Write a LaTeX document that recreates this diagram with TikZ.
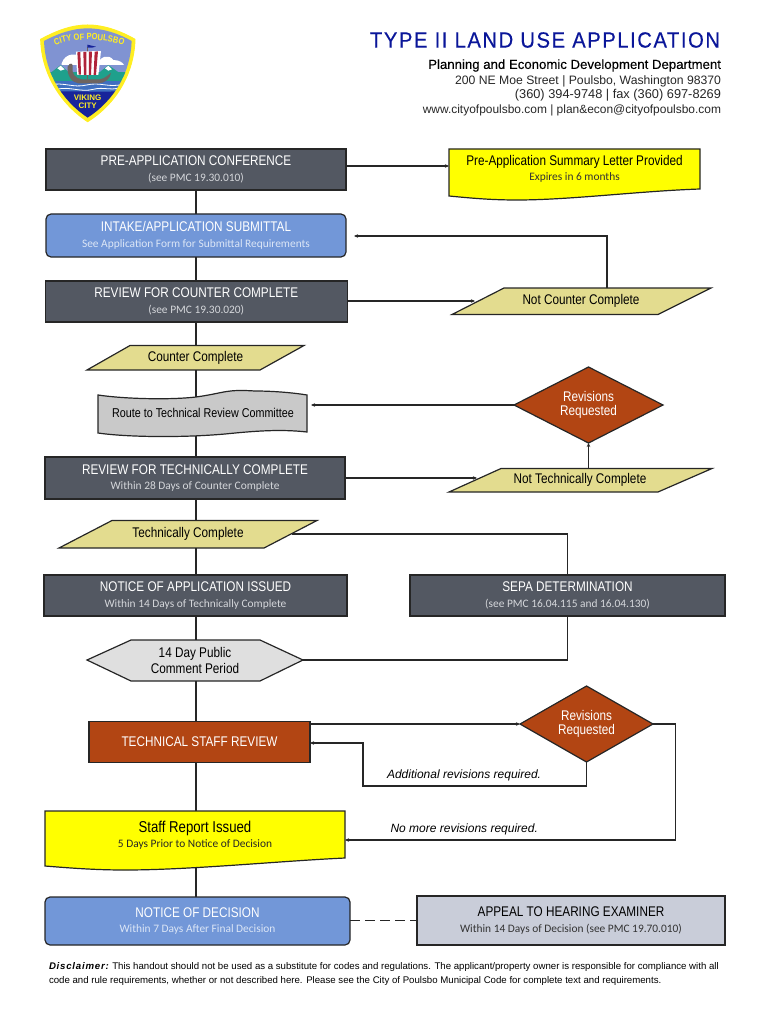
\documentclass[tikz,border=0pt]{standalone}
\usepackage{fontspec}
\usetikzlibrary{shapes.geometric,arrows.meta,decorations.text,calc}
\setmainfont{Liberation Sans}
\newfontfamily\hdfont[FakeStretch=0.84]{Liberation Sans}
\newfontfamily\logofont[FakeStretch=0.84]{Liberation Sans Bold}
\newfontfamily\subfont{Carlito}
\newfontfamily\ttlfont[LetterSpace=7,FakeStretch=0.92,FakeBold=0.4]{Liberation Sans}
\newfontfamily\deptfont[FakeBold=0.35]{Liberation Sans}
\newfontfamily\discfont[LetterSpace=8]{Liberation Sans Bold Italic}
\definecolor{slatebox}{HTML}{535862}
\definecolor{bluebox}{HTML}{7297D8}
\definecolor{rustbox}{HTML}{B24513}
\definecolor{khakibox}{HTML}{E3DC8F}
\definecolor{greydoc}{HTML}{C9C9C9}
\definecolor{greyhex}{HTML}{DFDFDF}
\definecolor{appealbox}{HTML}{C9CDD9}
\definecolor{navytitle}{HTML}{0A1699}
\definecolor{subgrey}{HTML}{D5D7DB}
\definecolor{paleblue}{HTML}{DCE6F6}
\definecolor{docyellow}{HTML}{FFFF00}
\definecolor{logosky}{HTML}{8093D2}
\definecolor{logonavy}{HTML}{18249A}
\definecolor{logoteal}{HTML}{1FA08C}
\definecolor{logowater}{HTML}{3F6FC0}
\definecolor{logoyellow}{HTML}{FFEE22}
\definecolor{logored}{HTML}{B0243A}
\definecolor{logohull}{HTML}{6E6460}
\newcommand{\hd}[1]{{\hdfont\fontsize{14}{16}\selectfont #1}}
\newcommand{\sbt}[1]{{\subfont\fontsize{11.4}{16}\selectfont #1}}
\newcommand{\lbl}[1]{{\hdfont\fontsize{14}{15}\selectfont #1}}
\tikzset{
  x=1pt,y=-1pt,
  wire/.style={line width=1.1pt,draw=black!85},
  arrowwire/.style={wire,-{Stealth[length=4pt,width=3.5pt]}},
  shapeline/.style={line width=1.2pt,draw=black!85},
  txt/.style={draw=none,inner sep=0pt,outer sep=0pt,align=center},
  slate/.style={shapeline,fill=slatebox,text=white,align=center,inner sep=0pt,outer sep=0pt},
  bluerect/.style={shapeline,fill=bluebox,text=white,align=center,inner sep=0pt,outer sep=0pt,rounded corners=5pt},
  rust/.style={shapeline,fill=rustbox,text=white,align=center,inner sep=0pt,outer sep=0pt},
  decide/.style={shape=diamond,aspect=2,shapeline,fill=rustbox,text=white,align=center,inner sep=0pt,outer sep=0pt},
  appeal/.style={shapeline,fill=appealbox,text=black,align=center,inner sep=0pt,outer sep=0pt},
  khaki/.style={shapeline,fill=khakibox},
  yellowdoc/.style={shapeline,fill=docyellow},
}
\begin{document}
\begin{tikzpicture}
\useasboundingbox (0,0) rectangle (770,1024);
% ---- logo
\begin{scope}[shift={(20,10)},x=0.3333pt,y=-0.3333pt]
  \path[fill=logoyellow,draw=logoyellow,line width=1pt]
    (62,88) .. controls (110,62) and (155,45) .. (203,45)
    .. controls (250,45) and (300,62) .. (345,88)
    .. controls (342,190) and (290,280) .. (203,335)
    .. controls (120,280) and (65,190) .. (62,88) -- cycle;
  \begin{scope}
    \clip (72,93) .. controls (115,70) and (160,55) .. (203,55)
      .. controls (248,55) and (295,70) .. (335,93)
      .. controls (332,188) and (282,272) .. (203,323)
      .. controls (126,272) and (75,188) .. (72,93) -- cycle;
    \fill[logosky] (50,40) rectangle (360,200);
    \fill[white] (125,160) .. controls (135,128) and (175,125) .. (190,150) .. controls (215,160) and (215,165) .. (200,165) -- (125,165) -- cycle;
    \fill[white] (230,165) .. controls (240,140) and (265,130) .. (280,150) .. controls (300,150) and (310,160) .. (312,165) -- cycle;
    \fill[logoteal] (50,185) rectangle (360,215);
    \fill[logoteal] (90,190) -- (122,165) -- (150,190) -- cycle;
    \fill[logoteal] (235,190) -- (265,165) -- (300,190) -- cycle;
    \fill[white] (112,175) -- (122,167) -- (134,178) -- (122,182) -- cycle;
    \fill[white] (255,175) -- (265,167) -- (276,178) -- (265,182) -- cycle;
    \fill[logowater] (50,212) rectangle (360,250);
    \draw[white,line width=0.8pt] (90,225) .. controls (130,215) and (160,235) .. (200,225) .. controls (240,215) and (270,235) .. (310,222);
    \draw[white,line width=0.8pt] (110,238) .. controls (150,228) and (180,248) .. (220,238) .. controls (250,230) and (270,242) .. (295,234);
    \fill[logonavy] (50,246) .. controls (120,240) and (280,250) .. (360,240) -- (360,340) -- (50,340) -- cycle;
  \end{scope}
  % ship
  \fill[logohull] (143,170) .. controls (150,155) and (160,160) .. (158,172) .. controls (155,190) and (165,205) .. (185,208) -- (240,208) .. controls (255,205) and (265,195) .. (273,188) .. controls (272,205) and (255,220) .. (235,220) -- (175,220) .. controls (155,218) and (140,195) .. (143,170) -- cycle;
  \draw[logohull,line width=0.9pt] (202,112) -- (202,208);
  \fill[logonavy] (202,104) -- (228,110) -- (216,113) -- (202,113) -- cycle;
  \fill[white] (168,125) -- (243,123) .. controls (240,150) and (238,175) .. (235,195) -- (172,195) .. controls (170,170) and (168,150) .. (168,125) -- cycle;
  \fill[logored] (172,127) -- (181,126) -- (183,194) -- (176,194) -- cycle;
  \fill[logored] (190,126) -- (199,126) -- (199,195) -- (192,195) -- cycle;
  \fill[logored] (207,125) -- (216,125) -- (213,195) -- (207,195) -- cycle;
  \fill[logored] (224,125) -- (234,124) -- (228,195) -- (221,195) -- cycle;
  \path[decorate,decoration={text along path,text align=center,
    text={|\color{logoyellow}\logofont\fontsize{9}{10}\selectfont|CITY OF POULSBO}}]
    (90,112) .. controls (150,82) and (260,82) .. (326,112);
  \node[txt,text=logoyellow,font=\bfseries\fontsize{8}{8}\selectfont] (logotext) at (203,274) {VIKING\\CITY};
\end{scope}
% ---- header
\node[txt,anchor=east,text=navytitle,font=\ttlfont\fontsize{22}{24}\selectfont] (title) at (720,40) {TYPE II LAND USE APPLICATION};
\node[txt,anchor=east,font=\deptfont\fontsize{13.2}{15}\selectfont] (dept) at (721,65.5) {Planning and Economic Development Department};
\node[txt,anchor=east,text=black!85,font=\fontsize{12.2}{15}\selectfont] (addr) at (721,81) {200 NE Moe Street | Poulsbo, Washington 98370};
\node[txt,anchor=east,text=black!85,font=\fontsize{12.8}{15}\selectfont] (phone) at (721,95.5) {(360) 394-9748 | fax (360) 697-8269};
\node[txt,anchor=east,text=black!85,font=\fontsize{11.95}{15}\selectfont] (web) at (721,110.5) {www.cityofpoulsbo.com | plan\&econ@cityofpoulsbo.com};
% ---- shapes drawn as paths
\path[yellowdoc] (449,149) -- (700,149) -- (700,189) .. controls (640,191) and (570,200) .. (517,200) .. controls (490,200) and (470,198) .. (449,196) -- cycle;
\path[khaki] (87,370) -- (130,345.5) -- (304,345.5) -- (260,370) -- cycle;
\path[khaki] (452,314.5) -- (504,288) -- (711,288) -- (658,314.5) -- cycle;
\path[khaki] (449,492) -- (501,468.5) -- (712,468.5) -- (658,492) -- cycle;
\path[khaki] (59,548) -- (112,520.5) -- (317,520.5) -- (264,548) -- cycle;
\path[shapeline,fill=greydoc] (98,395) .. controls (125,399) and (170,400) .. (196,397) .. controls (225,393) and (225,389) .. (255,391) .. controls (275,391) and (295,393) .. (307,395)
  -- (307,432) .. controls (280,429) and (255,431) .. (225,434) .. controls (180,438) and (125,437) .. (98,433) -- cycle;
\path[shapeline,fill=greyhex] (87,660) -- (131,640) -- (260,640) -- (303,660) -- (260,681) -- (131,681) -- cycle;
\path[yellowdoc] (45,811) -- (345,811) -- (345,858) .. controls (280,861) and (190,870) .. (125,870) .. controls (95,870) and (70,868) .. (45,866) -- cycle;
% ---- boxes
\node[slate,minimum width=300pt,minimum height=41pt] (pre) at (196,169.5) {\hd{PRE-APPLICATION CONFERENCE}\\[3.5pt]\textcolor{subgrey}{\sbt{(see PMC 19.30.010)}}};
\node[bluerect,minimum width=300pt,minimum height=43pt] (intake) at (196,235.5) {\hd{INTAKE/APPLICATION SUBMITTAL}\\[3.5pt]\textcolor{paleblue}{\sbt{See Application Form for Submittal Requirements}}};
\node[slate,minimum width=302pt,minimum height=41pt] (rcc) at (196.3,301.5) {\hd{REVIEW FOR COUNTER COMPLETE}\\[3.5pt]\textcolor{subgrey}{\sbt{(see PMC 19.30.020)}}};
\node[slate,minimum width=300pt,minimum height=42pt] (rtc) at (195,478) {\hd{REVIEW FOR TECHNICALLY COMPLETE}\\[3.5pt]\textcolor{subgrey}{\sbt{Within 28 Days of Counter Complete}}};
\node[slate,minimum width=303pt,minimum height=41pt] (noa) at (195.5,595.5) {\hd{NOTICE OF APPLICATION ISSUED}\\[3.5pt]\textcolor{subgrey}{\sbt{Within 14 Days of Technically Complete}}};
\node[slate,minimum width=315pt,minimum height=41pt] (sepa) at (567.5,595.5) {\hd{SEPA DETERMINATION}\\[3.5pt]\textcolor{subgrey}{\sbt{(see PMC  16.04.115 and 16.04.130)}}};
\node[rust,minimum width=221pt,minimum height=41pt] (tsr) at (199.5,742) {\hd{TECHNICAL STAFF REVIEW}};
\node[bluerect,minimum width=305pt,minimum height=48pt] (nod) at (197.5,921) {\hd{NOTICE OF DECISION}\\[3.5pt]\textcolor{paleblue}{\sbt{Within 7 Days After Final Decision}}};
\node[appeal,minimum width=308pt,minimum height=49pt] (ahe) at (571,920.5) {\hd{APPEAL TO HEARING EXAMINER}\\[3.5pt]\textcolor{black!80}{\sbt{Within 14 Days of Decision (see PMC 19.70.010)}}};
\node[decide,minimum width=149pt,minimum height=76pt] (rev1) at (588.5,405) {\lbl{Revisions}\\[2pt]\lbl{Requested}};
\node[decide,minimum width=133pt,minimum height=76pt] (rev2) at (586.5,724) {\lbl{Revisions}\\[2pt]\lbl{Requested}};
% ---- text on path shapes
\node[txt,minimum width=251pt,minimum height=40pt] (letter) at (574.5,169) {{\hdfont\fontsize{14}{16}\selectfont Pre-Application Summary Letter Provided}\\[3.5pt]\textcolor{black!80}{\sbt{Expires in 6 months}}};
\node[txt,minimum width=170pt,minimum height=24.5pt] (cc) at (195.5,357.7) {\lbl{Counter Complete}};
\node[txt,minimum width=155pt,minimum height=26.5pt] (ncc) at (581,301.2) {\lbl{Not Counter Complete}};
\node[txt,minimum width=200pt,minimum height=30pt] (route) at (203,412.5) {{\hdfont\fontsize{12.8}{14}\selectfont Route to Technical Review Committee}};
\node[txt,minimum width=155pt,minimum height=23.5pt] (ntc) at (580,480.2) {\lbl{Not Technically Complete}};
\node[txt,minimum width=150pt,minimum height=27.5pt] (tc) at (188,534.2) {\lbl{Technically Complete}};
\node[txt,minimum width=130pt,minimum height=41pt] (hex) at (195,660.5) {\lbl{14 Day Public}\\[1pt]\lbl{Comment Period}};
\node[txt,minimum width=300pt,minimum height=41pt] (staff) at (195,835) {{\hdfont\fontsize{15.7}{16}\selectfont Staff Report Issued}\\[3.5pt]\textcolor{black!85}{\sbt{5 Days Prior to Notice of Decision}}};
% ---- free connector ends
\coordinate (letterin) at (449,166);
\coordinate (preout) at (346,166);
\coordinate (nccin) at (475,301);
\coordinate (ncctop) at (607,288);
\coordinate (intakein) at (354,236);
\coordinate (routein) at (311,405);
\coordinate (routetop) at (196,397);
\coordinate (routebot) at (196,436);
\coordinate (ntcin) at (477,478);
\coordinate (ntctop) at (588.5,468.5);
\coordinate (tcout) at (292,534);
\coordinate (hexr) at (303,660);
\coordinate (hext) at (196,640);
\coordinate (hexb) at (196,681);
\coordinate (tsrout) at (310,724);
\coordinate (tsrin) at (310,743);
\coordinate (loopb) at (363,786);
\coordinate (staffin) at (345,840);
\coordinate (stafftop) at (196,811);
\coordinate (staffbot) at (196,868);
\coordinate (cctop) at (196,345.5);
\coordinate (ccbot) at (196,370);
\coordinate (tctop) at (196,520.5);
\coordinate (tcbot) at (196,548);
\coordinate (rtcout) at (345,478);
\coordinate (rtcbot) at (196,499);
\coordinate (rtctop) at (196,457);
\coordinate (noatop) at (196,575);
\coordinate (noabot) at (196,616);
\coordinate (tsrtop) at (196,722);
\coordinate (tsrbot) at (196,763);
\coordinate (nodtop) at (196,897);
% ---- connectors
\draw[wire] (pre.south -| hext) -- (intake.north -| hext);
\draw[wire] (intake.south -| hext) -- (rcc.north -| hext);
\draw[wire] (rcc.south -| hext) -- (cctop);
\draw[wire] (ccbot) -- (routetop);
\draw[wire] (routebot) -- (rtctop);
\draw[wire] (rtcbot) -- (tctop);
\draw[wire] (tcbot) -- (noatop);
\draw[wire] (noabot) -- (hext);
\draw[wire] (hexb) -- (tsrtop);
\draw[wire] (tsrbot) -- (stafftop);
\draw[wire] (staffbot) -- (nodtop);
\draw[arrowwire] (preout) -- (letterin);
\draw[arrowwire] (rcc.east |- nccin) -- (nccin);
\draw[arrowwire] (ncctop) |- (intakein);
\draw[arrowwire] (rev1.west) -- (routein);
\draw[arrowwire] (rtcout) -- (ntcin);
\draw[arrowwire] (ntctop) -- (rev1.south);
\draw[wire] (tcout) -| (sepa.north);
\draw[wire] (hexr) -| (sepa.south);
\draw[arrowwire] (tsrout) -- (rev2.west);
\draw[arrowwire] (rev2.south) |- (loopb) |- (tsrin);
\draw[arrowwire] (rev2.east) -- ++(22.5,0) |- (staffin);
\draw[wire,dash pattern=on 10pt off 5pt] (nod.east |- ahe.west) -- (ahe.west);
% ---- labels
\node[txt,anchor=west,font=\itshape\fontsize{12}{14}\selectfont] (addl) at (387,775) {Additional revisions required.};
\node[txt,anchor=west,font=\itshape\fontsize{12}{14}\selectfont] (nomore) at (390.5,829) {No more revisions required.};
\node[txt,anchor=west,font=\fontsize{9.65}{12}\selectfont] (disc1) at (49,967) {{\discfont Disclaimer:} This handout should not be used as a substitute for codes and regulations. The applicant/property owner is responsible for compliance with all};
\node[txt,anchor=west,font=\fontsize{9.65}{12}\selectfont] (disc2) at (49,981) {code and rule requirements, whether or not  described here. Please see the City of Poulsbo Municipal Code for complete text and requirements.};
\end{tikzpicture}
\end{document}
